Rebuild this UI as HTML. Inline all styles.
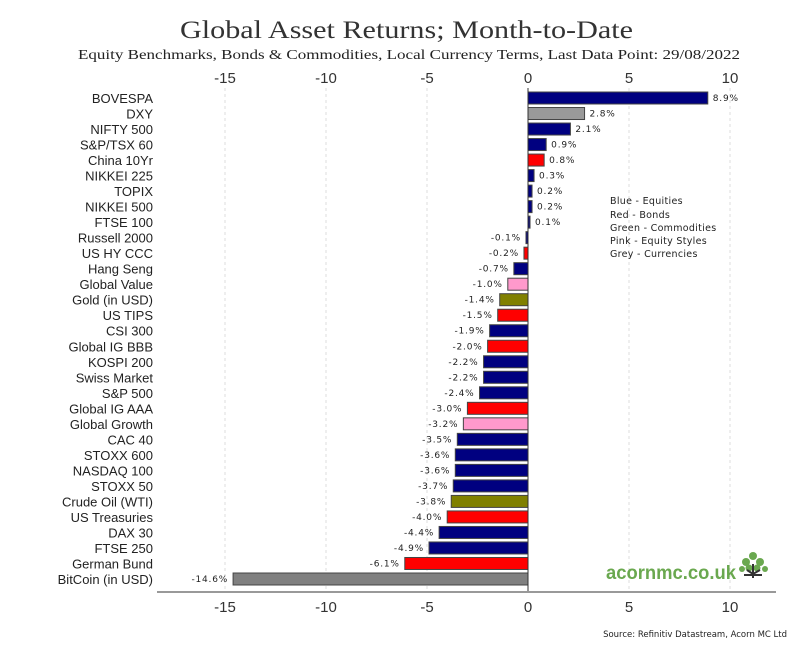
<!DOCTYPE html>
<html><head><meta charset="utf-8"><style>
body{margin:0;background:#fff;}
svg{display:block;font-family:"Liberation Sans",sans-serif;}
.lab{font-size:13px;fill:#222;text-anchor:end;}
.v{font-size:9px;fill:#222;letter-spacing:0.8px;font-family:"DejaVu Sans",sans-serif;}
.t{font-size:15px;fill:#333;text-anchor:middle;}
.lg{font-size:9.5px;fill:#222;font-family:"DejaVu Sans",sans-serif;letter-spacing:0.3px;}
</style></head><body>
<svg width="811" height="653" viewBox="0 0 811 653">
<text x="180" y="38" textLength="453" lengthAdjust="spacingAndGlyphs" font-family="Liberation Serif" font-size="25" fill="#333">Global Asset Returns; Month-to-Date</text>
<text x="78" y="59" textLength="662" lengthAdjust="spacingAndGlyphs" font-family="Liberation Serif" font-size="14" fill="#222">Equity Benchmarks, Bonds &amp; Commodities, Local Currency Terms, Last Data Point: 29/08/2022</text>
<g id="g"></g>
<text x="610" y="204" class="lg">Blue - Equities</text>
<text x="610" y="218" class="lg">Red - Bonds</text>
<text x="610" y="231" class="lg">Green - Commodities</text>
<text x="610" y="244" class="lg">Pink - Equity Styles</text>
<text x="610" y="257" class="lg">Grey - Currencies</text>
<text x="606" y="579" textLength="130" lengthAdjust="spacingAndGlyphs" font-family="Liberation Sans" font-weight="bold" font-size="19" fill="#6aa84f">acornmc.co.uk</text>
<g fill="#6aa84f"><circle cx="753" cy="556" r="4"/><circle cx="746" cy="562" r="4"/><circle cx="760" cy="562" r="4"/><circle cx="749" cy="568" r="3.5"/><circle cx="757" cy="568" r="3.5"/><circle cx="742" cy="569" r="3"/><circle cx="765" cy="569" r="3"/></g>
<path d="M753 564 L753 578 M747 570 L753 574 L760 570 M744 575 L762 575" stroke="#333" stroke-width="2" fill="none"/>
<text x="787" y="637" text-anchor="end" font-family="DejaVu Sans" font-size="8.5" fill="#222">Source: Refinitiv Datastream, Acorn MC Ltd</text>
</svg>
<script>
const d=[["BOVESPA",8.9,"b"],["DXY",2.8,"g"],["NIFTY 500",2.1,"b"],["S&P/TSX 60",0.9,"b"],["China 10Yr",0.8,"r"],["NIKKEI 225",0.3,"b"],["TOPIX",0.2,"b"],["NIKKEI 500",0.2,"b"],["FTSE 100",0.1,"b"],["Russell 2000",-0.1,"b"],["US HY CCC",-0.2,"r"],["Hang Seng",-0.7,"b"],["Global Value",-1.0,"p"],["Gold (in USD)",-1.4,"o"],["US TIPS",-1.5,"r"],["CSI 300",-1.9,"b"],["Global IG BBB",-2.0,"r"],["KOSPI 200",-2.2,"b"],["Swiss Market",-2.2,"b"],["S&P 500",-2.4,"b"],["Global IG AAA",-3.0,"r"],["Global Growth",-3.2,"p"],["CAC 40",-3.5,"b"],["STOXX 600",-3.6,"b"],["NASDAQ 100",-3.6,"b"],["STOXX 50",-3.7,"b"],["Crude Oil (WTI)",-3.8,"o"],["US Treasuries",-4.0,"r"],["DAX 30",-4.4,"b"],["FTSE 250",-4.9,"b"],["German Bund",-6.1,"r"],["BitCoin (in USD)",-14.6,"k"]];
const col={b:"#000080",g:"#999999",r:"#ff0000",p:"#ff99cc",o:"#808000",k:"#808080"};
const X0=528,S=20.2;let h="";
for(const t of [-15,-10,-5,0,5,10]){const x=X0+t*S;
 if(t!==0)h+=`<line x1="${x}" y1="88" x2="${x}" y2="592" stroke="#ddd" stroke-dasharray="3,3"/>`;
 h+=`<text class="t" x="${x}" y="83">${t}</text><text class="t" x="${x}" y="612">${t}</text>`;}
const sp=(579-98)/31;
d.forEach((r,i)=>{const cy=98+i*sp;const top=cy-6;const v=r[1];const x=v>=0?X0:X0+v*S;const w=Math.max(Math.abs(v)*S,1);
 h+=`<text class="lab" x="153" y="${cy+5}">${r[0].replace('&','&amp;')}</text>`;
 h+=`<rect x="${x}" y="${top}" width="${w}" height="12" fill="${col[r[2]]}" stroke="#444" stroke-width="1"/>`;
 const s=v.toFixed(1)+"%";
 if(v>=0)h+=`<text class="v" x="${X0+v*S+5}" y="${cy+3}">${s}</text>`;else h+=`<text class="v" text-anchor="end" x="${x-5}" y="${cy+3}">${s}</text>`;});
h+=`<line x1="${X0}" y1="88" x2="${X0}" y2="592" stroke="#333" stroke-width="1"/>`;
h+=`<line x1="157" y1="592" x2="776" y2="592" stroke="#999" stroke-width="2"/>`;
document.getElementById("g").innerHTML=h;
</script>
</body></html>
